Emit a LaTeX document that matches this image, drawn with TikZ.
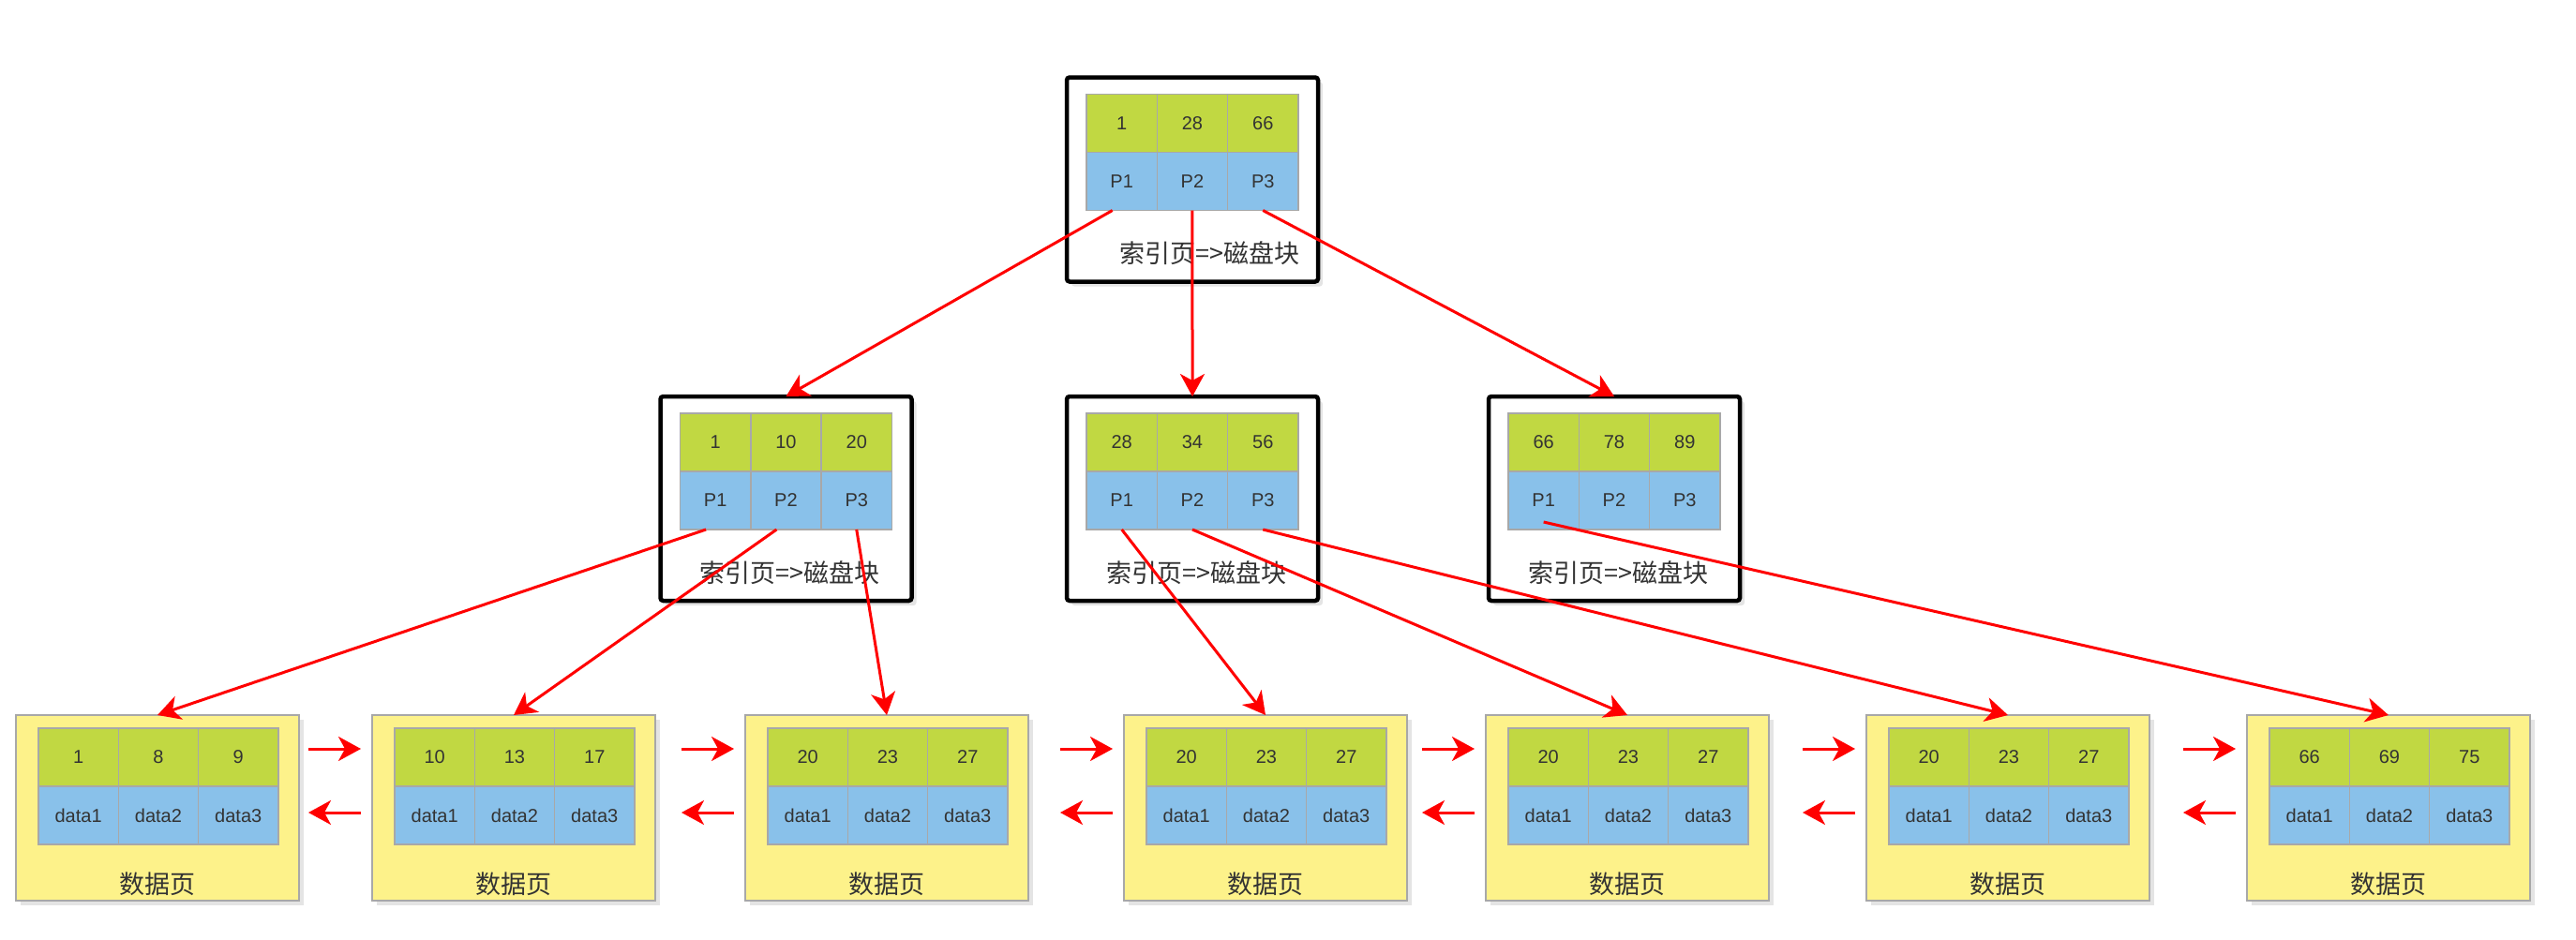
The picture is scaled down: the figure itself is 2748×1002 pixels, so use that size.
\documentclass[tikz,border=0pt]{standalone}
\usepackage{fontspec}
\setmainfont{Liberation Sans}
\newfontfamily\cjk{Noto Sans CJK SC}
\usepackage{tikz}
\usetikzlibrary{positioning,arrows.meta,shadows}
\definecolor{keygreen}{RGB}{193,216,66}
\definecolor{ptrblue}{RGB}{137,193,234}
\definecolor{pageyellow}{RGB}{253,242,138}
\definecolor{cellgray}{RGB}{168,168,168}
\definecolor{txtgray}{RGB}{51,51,51}
\definecolor{shadowgray}{RGB}{228,228,228}

\begin{document}
\begin{tikzpicture}[x=1pt, y=-1pt,
    boxcell/.style={draw=cellgray, line width=1.5pt, minimum height=62pt, inner sep=0pt, outer sep=0pt,
        text=txtgray, font=\fontsize{20}{22}\selectfont},
    keycell/.style={boxcell, fill=keygreen},
    ptrcell/.style={boxcell, fill=ptrblue},
    idxw/.style={minimum width=75.3pt},
    datw/.style={minimum width=85.3pt},
    pageshadow/.style={general shadow={draw=none, fill=shadowgray, shadow xshift=5pt, shadow yshift=-5pt}},
    idxframe/.style={draw=black, line width=4.5pt, fill=white, rounded corners=3pt, outer sep=0pt,
        minimum width=268pt, minimum height=218pt, pageshadow},
    datframe/.style={draw=cellgray, line width=2pt, fill=pageyellow, outer sep=0pt,
        minimum width=302pt, minimum height=198pt, pageshadow},
    pagelabel/.style={text=txtgray, inner sep=0pt, font=\cjk\fontsize{27}{30}\selectfont},
    link/.style={draw=red, line width=3pt, -{Stealth[length=24pt, width=26pt, inset=7pt]}}]

    \useasboundingbox (0,0) rectangle (2748,1002);

    % index pages
    \foreach \n/\cx/\cy/\a/\b/\c/\dx in {root/1272/191.5/1/28/66/18, idxA/838.5/532/1/10/20/4,
            idxB/1272/532/28/34/56/4, idxC/1722/532/66/78/89/4} {
        \node[idxframe] (\n) at (\cx,\cy) {};
        \node[keycell, idxw, anchor=north west] (\n-k1) at ([shift={(21,18)}]\n.north west) {\a};
        \node[keycell, idxw, right=0pt of \n-k1] (\n-k2) {\b};
        \node[keycell, idxw, right=0pt of \n-k2] (\n-k3) {\c};
        \node[ptrcell, idxw, below=0pt of \n-k1] (\n-p1) {P1};
        \node[ptrcell, idxw, below=0pt of \n-k2] (\n-p2) {P2};
        \node[ptrcell, idxw, below=0pt of \n-k3] (\n-p3) {P3};
        \node[pagelabel] (\n-lbl) at ([shift={(\dx,-30)}]\n.south) {索引页=>磁盘块};
    }

    % data pages
    \foreach \n/\cx/\a/\b/\c in {1/168/1/8/9, 2/548/10/13/17, 3/946/20/23/27, 4/1350/20/23/27,
            5/1736/20/23/27, 6/2142/20/23/27, 7/2548/66/69/75} {
        \node[datframe] (dat\n) at (\cx,862) {};
        \node[keycell, datw, anchor=north west] (dat\n-k1) at ([shift={(24,14)}]dat\n.north west) {\a};
        \node[keycell, datw, right=0pt of dat\n-k1] (dat\n-k2) {\b};
        \node[keycell, datw, right=0pt of dat\n-k2] (dat\n-k3) {\c};
        \node[ptrcell, datw, below=0pt of dat\n-k1] (dat\n-d1) {data1};
        \node[ptrcell, datw, below=0pt of dat\n-k2] (dat\n-d2) {data2};
        \node[ptrcell, datw, below=0pt of dat\n-k3] (dat\n-d3) {data3};
        \node[pagelabel] (dat\n-lbl) at ([shift={(0,-18)}]dat\n.south) {数据页};
    }

    % links between data pages
    \foreach \b in {2,...,7} {
        \draw[link] ([shift={(-68,36)}]dat\b.north west) -- ([shift={(-12,36)}]dat\b.north west);
        \draw[link] ([shift={(-12,104)}]dat\b.north west) -- ([shift={(-68,104)}]dat\b.north west);
    }

    % pointers
    \draw[link] ([xshift=-10pt]root-p1.south) -- (idxA.north);
    \draw[link] (root-p2.south) -- (idxB.north);
    \draw[link] (root-p3.south) -- (idxC.north);
    \draw[link] ([xshift=-10pt]idxA-p1.south) -- (dat1.north);
    \draw[link] ([xshift=-10pt]idxA-p2.south) -- (dat2.north);
    \draw[link] (idxA-p3.south) -- (dat3.north);
    \draw[link] (idxB-p1.south) -- (dat4.north);
    \draw[link] (idxB-p2.south) -- (dat5.north);
    \draw[link] (idxB-p3.south) -- (dat6.north);
    \draw[link] ([yshift=8pt]idxC-p1.south) -- (dat7.north);
\end{tikzpicture}
\end{document}
